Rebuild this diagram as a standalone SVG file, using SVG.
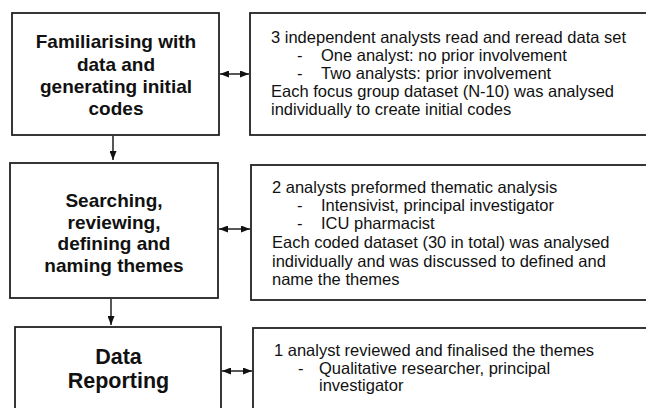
<svg xmlns="http://www.w3.org/2000/svg" width="646" height="408" viewBox="0 0 646 408">
<defs>
<marker id="ah" viewBox="0 0 9 7" refX="9" refY="3.5" markerWidth="9" markerHeight="7" markerUnits="userSpaceOnUse" orient="auto-start-reverse">
<path d="M0,0 L9,3.5 L0,7 Z" fill="#111"/>
</marker>
</defs>
<style>
.box{fill:#fff;stroke:#222;stroke-width:1.8}
.title{font-family:"Liberation Sans",Arial,sans-serif;font-weight:bold;font-size:19px;fill:#111;text-anchor:middle}
.big{font-size:21.5px}
.desc{font-family:"Liberation Sans",Arial,sans-serif;font-size:16.5px;fill:#111}
.con{stroke:#111;stroke-width:1.4;fill:none}
</style>
<rect width="646" height="408" fill="#fff"/>
<g id="step1">
<rect class="box" x="12" y="13" width="207" height="122"/>
<text class="title" x="116" y="48">Familiarising with</text>
<text class="title" x="116" y="70.5">data and</text>
<text class="title" x="116" y="92.5">generating initial</text>
<text class="title" x="116" y="114.5">codes</text>
</g>
<g id="detail1">
<rect class="box" x="250" y="13" width="420" height="122"/>
<text class="desc" x="271" y="43">3 independent analysts read and reread data set</text>
<text class="desc" x="297" y="61">-</text>
<text class="desc" x="321" y="61">One analyst: no prior involvement</text>
<text class="desc" x="297" y="79">-</text>
<text class="desc" x="321" y="79">Two analysts: prior involvement</text>
<text class="desc" x="271" y="97">Each focus group dataset (N-10) was analysed</text>
<text class="desc" x="271" y="114.5">individually to create initial codes</text>
</g>
<g id="step2">
<rect class="box" x="10" y="163" width="208" height="135"/>
<text class="title" x="114" y="207">Searching,</text>
<text class="title" x="114" y="229">reviewing,</text>
<text class="title" x="114" y="250">defining and</text>
<text class="title" x="114" y="271.5">naming themes</text>
</g>
<g id="detail2">
<rect class="box" x="251" y="165" width="420" height="135"/>
<text class="desc" x="272" y="193">2 analysts preformed thematic analysis</text>
<text class="desc" x="297" y="211">-</text>
<text class="desc" x="321" y="211">Intensivist, principal investigator</text>
<text class="desc" x="297" y="229">-</text>
<text class="desc" x="321" y="229">ICU pharmacist</text>
<text class="desc" x="272" y="248">Each coded dataset (30 in total) was analysed</text>
<text class="desc" x="272" y="266.5">individually and was discussed to defined and</text>
<text class="desc" x="272" y="285">name the themes</text>
</g>
<g id="step3">
<rect class="box" x="15" y="327" width="206" height="100"/>
<text class="title big" x="118.5" y="364">Data</text>
<text class="title big" x="118.5" y="387.5">Reporting</text>
</g>
<g id="detail3">
<rect class="box" x="253" y="328" width="420" height="100"/>
<text class="desc" x="274" y="356">1 analyst reviewed and finalised the themes</text>
<text class="desc" x="298" y="374">-</text>
<text class="desc" x="319" y="374">Qualitative researcher, principal</text>
<text class="desc" x="319" y="391">investigator</text>
</g>
<g id="connectors">
<line class="con" x1="220" y1="74" x2="249" y2="74" marker-start="url(#ah)" marker-end="url(#ah)"/>
<line class="con" x1="219" y1="229" x2="250" y2="229" marker-start="url(#ah)" marker-end="url(#ah)"/>
<line class="con" x1="222" y1="371" x2="252" y2="371" marker-start="url(#ah)" marker-end="url(#ah)"/>
<line class="con" x1="113" y1="136" x2="113" y2="160" marker-end="url(#ah)"/>
<line class="con" x1="111" y1="299" x2="111" y2="325" marker-end="url(#ah)"/>
</g>
</svg>
